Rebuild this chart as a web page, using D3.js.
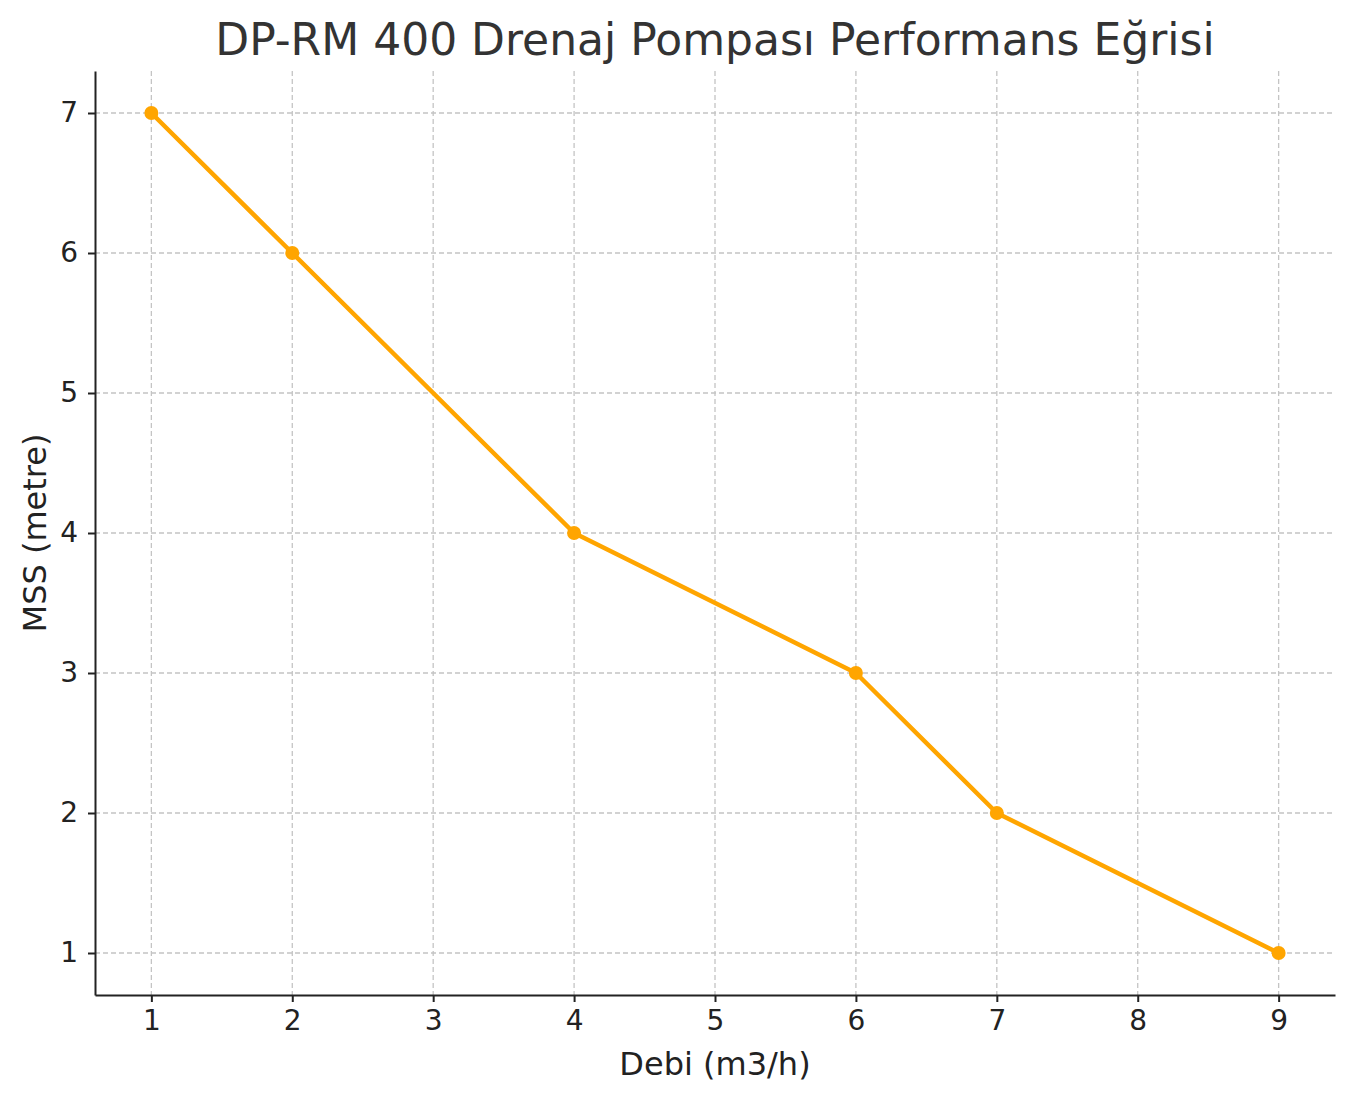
<!DOCTYPE html>
<html><head><meta charset="utf-8">
<script src="https://cdn.jsdelivr.net/npm/d3@7"></script>
<style>body{margin:0;background:#fff}svg{font-family:"DejaVu Sans",sans-serif}</style>
</head><body><svg id="c" width="1355" height="1102"></svg>
<script>
const xValues=[1,2,4,6,7,9];
const yValues=[7,6,4,3,2,1];
const xTicks=[1,2,3,4,5,6,7,8,9];
const yTicks=[1,2,3,4,5,6,7];
const title="DP-RM 400 Drenaj Pompası Performans Eğrisi";
const xLabel="Debi (m3/h)", yLabel="MSS (metre)";

const svg=d3.select("#c");
const L=95,R=1335,T=71,B=995;
const x=d3.scaleLinear().domain([0.6,9.4]).range([L,R]);
const y=d3.scaleLinear().domain([0.7,7.3]).range([B,T]);
const g=svg.append("g");
g.selectAll(".gx").data(xTicks).join("line").attr("x1",d=>x(d)).attr("x2",d=>x(d)).attr("y1",T).attr("y2",B)
 .attr("stroke","#c4c4c4").attr("stroke-dasharray","5,3").attr("stroke-width",1.3);
g.selectAll(".gy").data(yTicks).join("line").attr("y1",d=>y(d)).attr("y2",d=>y(d)).attr("x1",L).attr("x2",R)
 .attr("stroke","#c4c4c4").attr("stroke-dasharray","5,3").attr("stroke-width",1.3);
const fmt=d3.format("d");
const xa=svg.append("g").attr("transform",`translate(0,${B})`).call(d3.axisBottom(x).tickValues(xTicks).tickFormat(fmt).tickSize(7).tickPadding(8).tickSizeOuter(0));
const ya=svg.append("g").attr("transform",`translate(${L},0)`).call(d3.axisLeft(y).tickValues(yTicks).tickFormat(fmt).tickSize(7).tickPadding(10).tickSizeOuter(0));
[xa,ya].forEach(a=>{a.attr("font-size",null).attr("font-family",null);
 a.selectAll("text").style("font-size","28px").attr("fill","#222");
 a.selectAll("line,path").attr("stroke","#222").attr("stroke-width",2);});
const data=xValues.map((v,i)=>[v,yValues[i]]);
svg.append("path").datum(data).attr("d",d3.line().x(d=>x(d[0])).y(d=>y(d[1])))
 .attr("fill","none").attr("stroke","#FFA500").attr("stroke-width",4.5).attr("stroke-linejoin","round");
svg.selectAll(".pt").data(data).join("circle").attr("cx",d=>x(d[0])).attr("cy",d=>y(d[1])).attr("r",7).attr("fill","#FFA500");
svg.append("text").attr("x",715).attr("y",55).attr("text-anchor","middle").style("font-size","44px").attr("fill","#333").text(title);
svg.append("text").attr("x",715).attr("y",1075).attr("text-anchor","middle").style("font-size","32px").attr("fill","#222").text(xLabel);
svg.append("text").attr("transform","translate(46,533) rotate(-90)").attr("text-anchor","middle").style("font-size","32px").attr("fill","#222").text(yLabel);
</script></body></html>
